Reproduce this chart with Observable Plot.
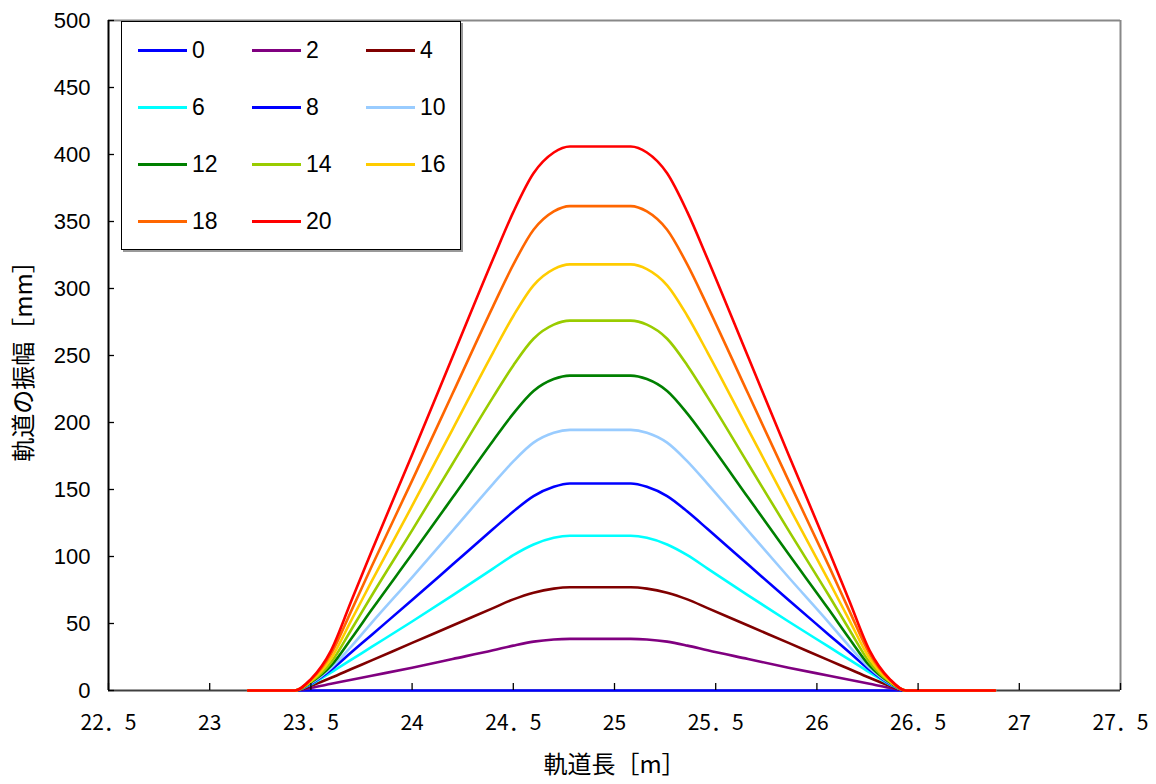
<!DOCTYPE html>
<html>
<head>
<meta charset="utf-8">
<script src="https://cdn.jsdelivr.net/npm/d3@7"></script>
<script src="https://cdn.jsdelivr.net/npm/@observablehq/plot@0.6"></script>
<style>
  body { margin: 0; background: #fff; }
  #wrap { position: relative; width: 1156px; height: 784px; }
  #legend {
    position: absolute; left: 121px; top: 21px; width: 340px; height: 229px;
    border: 1px solid #000; background: #fff; box-shadow: 2px 2px 0 #999;
    box-sizing: border-box; font-family: "Liberation Sans", Arial, sans-serif; font-size: 23px; color: #000;
  }
  .item { position: absolute; display: flex; align-items: center; height: 30px; transform: translateY(-50%); }
  .sw { width: 49px; height: 3px; margin-right: 5px; }
</style>
</head>
<body>
<div id="wrap"><div id="legend"></div></div>
<script>
// ---- data ----
const seriesNames = ["0", "2", "4", "6", "8", "10", "12", "14", "16", "18", "20"];
const seriesColors = ["#0000FF", "#800080", "#800000", "#00FFFF", "#0000FF", "#99CCFF",
                      "#008000", "#99CC00", "#FFCC00", "#FF6600", "#FF0000"];

const xs = [23.19, 23.42, 23.5, 23.6, 23.7, 23.8, 24.0, 24.2, 24.4, 24.5, 24.6, 24.7, 24.78,
            25.08, 25.16, 25.26, 25.36, 25.46, 25.66, 25.86, 26.06, 26.16, 26.26, 26.36, 26.44, 26.88];

const s0  = [0,0,0,0,0,0,0,0,0,0,0,0,0, 0,0,0,0,0,0,0,0,0,0,0,0,0];
const s2  = [0,0,2,5,8,11,17,23.5,30,33.5,36.5,38.1,38.5, 38.5,38.1,36.5,33.5,30,23.5,17,11,8,5,2,0,0];
const s4  = [0,0,3.5,9.5,16,22.5,35.5,48.5,61.5,68,73,76,77, 77,76,73,68,61.5,48.5,35.5,22.5,16,9.5,3.5,0,0];
const s6  = [0,0,4.5,13.5,23,32.5,51.5,71,91,101,109,114,115.5, 115.5,114,109,101,91,71,51.5,32.5,23,13.5,4.5,0,0];
const s8  = [0,0,5,15.5,28.5,41.5,67.5,94,120.5,133.5,145,152,154.5, 154.5,152,145,133.5,120.5,94,67.5,41.5,28.5,15.5,5,0,0];
const s10 = [0,0,5.5,17,33,50.5,84.5,119.2,154.2,171,185,192.4,194.5, 194.5,192.4,185,171,154.2,119.2,84.5,50.5,33,17,5.5,0,0];
const s12 = [0,0,6,18.5,38.8,60.2,101.8,144,186.4,206.6,223.5,232.4,235, 235,232.4,223.5,206.6,186.4,144,101.8,60.2,38.8,18.5,6,0,0];
const s14 = [0,0,6.5,21,45.5,70.7,119.5,169.2,218.9,242.6,262.5,273,276, 276,273,262.5,242.6,218.9,169.2,119.5,70.7,45.5,21,6.5,0,0];
const s16 = [0,0,7,24,52.5,81.4,137.7,194.9,252.2,279.5,302.4,314.5,318, 318,314.5,302.4,279.5,252.2,194.9,137.7,81.4,52.5,24,7,0,0];
const s18 = [0,0,8,27.5,59.6,92.6,156.6,221.6,286.7,317.8,343.8,357.5,361.5, 361.5,357.5,343.8,317.8,286.7,221.6,156.6,92.6,59.6,27.5,8,0,0];
const s20 = [0,0,8.5,30,67,104,176,249,322,357,386,401.5,406, 406,401.5,386,357,322,249,176,104,67,30,8.5,0,0];
const allSeries = [s0, s2, s4, s6, s8, s10, s12, s14, s16, s18, s20];

const xTicks = [22.5, 23, 23.5, 24, 24.5, 25, 25.5, 26, 26.5, 27, 27.5];
const xTickLabels = ["22．5", "23", "23．5", "24", "24．5", "25", "25．5", "26", "26．5", "27", "27．5"];
const yTicks = [0, 50, 100, 150, 200, 250, 300, 350, 400, 450, 500];
const xTitle = "軌道長［m］";
const yTitle = "軌道の振幅［mm］";

// ---- chart ----
const xLabelMap = new Map(xTicks.map((t, i) => [t, xTickLabels[i]]));
const jpFont = "'Noto Sans CJK JP', 'Noto Sans', sans-serif";
const latinFont = "'Liberation Sans', Arial, sans-serif";

const lineMarks = allSeries.map((s, k) =>
  Plot.line(xs.map((x, i) => ({x, y: s[i]})), {
    x: "x", y: "y", stroke: seriesColors[k], strokeWidth: 2.6, curve: "monotone-x"
  })
);

const chart = Plot.plot({
  width: 1156,
  height: 784,
  marginLeft: 108,
  marginRight: 36,
  marginTop: 20,
  marginBottom: 94,
  x: {domain: [22.5, 27.5]},
  y: {domain: [0, 500]},
  style: {background: "white", color: "black", overflow: "visible"},
  marks: [
    Plot.ruleY([500], {stroke: "#888", strokeWidth: 2}),
    Plot.ruleX([27.5], {stroke: "#888", strokeWidth: 2}),
    Plot.ruleY([0], {stroke: "#404040", strokeWidth: 2}),
    Plot.ruleX([22.5], {stroke: "#000", strokeWidth: 2}),
    ...lineMarks,
    Plot.axisY({ticks: yTicks, tickSize: -6, tickFormat: () => "", strokeWidth: 1.3, label: null}),
    Plot.axisY({ticks: yTicks, tickSize: 0, tickPadding: 18, fontSize: 22, fontFamily: latinFont, label: null}),
    Plot.axisX({ticks: xTicks, tickSize: -7, tickFormat: () => "", strokeWidth: 1.3, label: null}),
    Plot.axisX({ticks: xTicks, tickSize: 0, tickPadding: 25, tickFormat: d => xLabelMap.get(d),
                fontSize: 21, fontFamily: jpFont, label: null}),
    Plot.text([xTitle], {text: d => d, frameAnchor: "bottom", dy: 75, lineAnchor: "middle", textAnchor: "middle",
                         fontSize: 24, fontFamily: jpFont, fill: "black"}),
    Plot.text([yTitle], {text: d => d, frameAnchor: "left", dx: -84, rotate: -90, textAnchor: "middle", lineAnchor: "middle",
                         fontSize: 24, fontFamily: jpFont, fill: "black"})
  ]
});

const wrap = document.getElementById("wrap");
wrap.insertBefore(chart, wrap.firstChild);

// ---- legend ----
const legend = document.getElementById("legend");
seriesNames.forEach((name, k) => {
  const col = k % 3, row = Math.floor(k / 3);
  const item = document.createElement("div");
  item.className = "item";
  item.style.left = (16 + col * 114) + "px";
  item.style.top = (28 + row * 57) + "px";
  const sw = document.createElement("div");
  sw.className = "sw";
  sw.style.background = seriesColors[k];
  const lab = document.createElement("span");
  lab.textContent = name;
  item.appendChild(sw);
  item.appendChild(lab);
  legend.appendChild(item);
});
</script>
</body>
</html>
